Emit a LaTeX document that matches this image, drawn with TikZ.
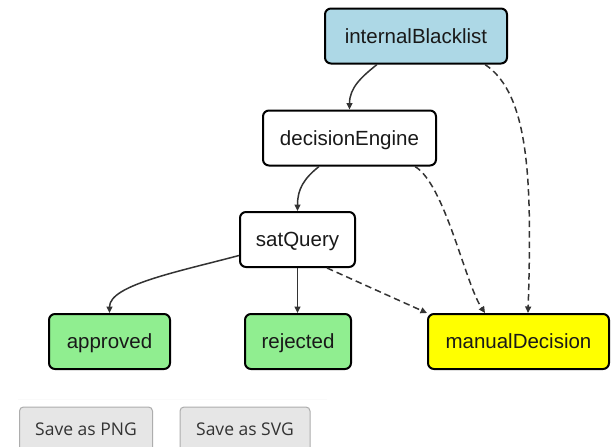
\documentclass[tikz,border=0pt]{standalone}
\usepackage{fontspec}
\setmainfont{Liberation Sans}
\newfontfamily\btnfont{Open Sans}
\usetikzlibrary{arrows.meta}
\definecolor{bluefill}{HTML}{ADD8E6}
\definecolor{greenfill}{HTML}{90EE90}
\definecolor{yellowfill}{HTML}{FFFF00}
\definecolor{edgecol}{HTML}{333333}
\definecolor{btnfill}{HTML}{E6E6E6}
\definecolor{btnline}{HTML}{ADADAD}
\definecolor{btntext}{HTML}{333333}
\tikzset{
  statebox/.style={draw=black, line width=2pt, rounded corners=6pt,
    minimum height=55pt, inner sep=0pt, text=black!90,
    text height=15pt, text depth=1pt,
    font=\fontsize{20.5}{24}\selectfont},
  flow/.style={draw=edgecol, line width=1.5pt,
    -{Triangle[length=6.5pt,width=6pt]}},
  review/.style={flow, dash pattern=on 6.5pt off 4pt},
  savebtn/.style={draw=btnline, fill=btnfill, line width=1pt,
    rounded corners=4pt, minimum height=60pt, inner sep=0pt},
  btnlabel/.style={text=btntext, inner sep=0pt,
    font=\btnfont\fontsize{17.5}{21}\selectfont}
}
\begin{document}
\begin{tikzpicture}[x=1pt,y=-1pt]
\useasboundingbox[fill=white] (0,0) rectangle (613,447);

% states
\node[statebox, fill=bluefill,  minimum width=182pt] (iB)  at (416,36)    {internalBlacklist};
\node[statebox, fill=white,     minimum width=173pt] (dE)  at (349.5,138) {decisionEngine};
\node[statebox, fill=white,     minimum width=115pt] (sQ)  at (297.5,239.5) {satQuery};
\node[statebox, fill=greenfill, minimum width=121pt] (ap)  at (109.5,341.5) {approved};
\node[statebox, fill=greenfill, minimum width=106pt] (rj)  at (298,341.5) {rejected};
\node[statebox, fill=yellowfill,minimum width=181pt] (mD)  at (518.5,341.5) {manualDecision};

% regular transitions
\draw[flow] ([xshift=53pt]iB.south west) .. controls +(-15,12) and +(0,-22) .. (dE.north);
\draw[flow] ([xshift=57pt]dE.south west) .. controls +(-15,12) and +(0,-22) .. (sQ.north);
\draw[flow] ([yshift=-16pt]sQ.west) .. controls +(-60,16) and +(0,-28) .. (ap.north);
\draw[flow] (sQ.south) -- (sQ.south |- rj.north);

% escalations to manual review
\draw[review] ([xshift=88pt]sQ.south west) -- (mD.north west);
\draw[review] ([xshift=-22pt]dE.south east) .. controls +(30,18) and +(-20,-30) .. ([xshift=58pt]mD.north west);
\draw[review] ([xshift=-23pt]iB.south east) .. controls +(45,30) and +(4,-130) .. ([xshift=101pt]mD.north west);

% export buttons
\draw[white!98!black, line width=0.8pt] (18,399) -- (327,399);
\node[savebtn, minimum width=133pt] (png) at (86,437) {};
\node[savebtn, minimum width=130pt] (svg) at (245,437) {};
\node[btnlabel] (pngtxt) at (86,429) {Save as PNG};
\node[btnlabel] (svgtxt) at (245,429) {Save as SVG};
\end{tikzpicture}
\end{document}
